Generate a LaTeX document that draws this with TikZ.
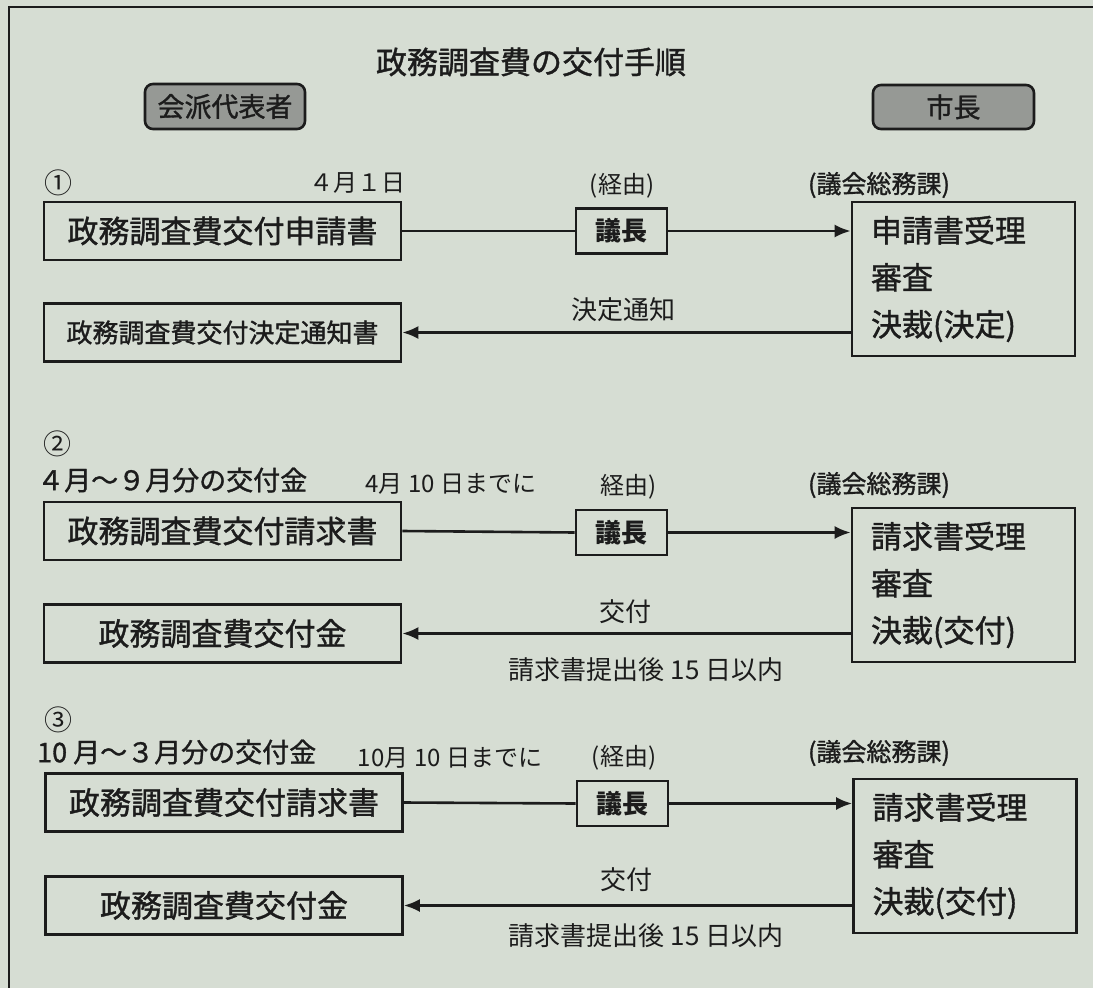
\documentclass[tikz,border=0pt]{standalone}
\usepackage{fontspec}
\setmainfont{Noto Sans CJK JP}
\newfontfamily\jpm[FakeBold=1.2]{Noto Sans CJK JP}
\usetikzlibrary{arrows.meta}
\definecolor{bg}{RGB}{214,221,211}
\definecolor{hdr}{RGB}{150,153,149}
\definecolor{ink}{RGB}{28,28,28}
\begin{document}
\begin{tikzpicture}[x=1pt,y=-1pt,
  box/.style={draw=ink, line width=2.6pt, inner sep=0pt, text=ink},
  hdrbox/.style={box, rounded corners=8pt, fill=hdr},
  lab/.style={inner sep=0pt, text=ink},
  conn/.style={draw=ink, line width=2.6pt},
  arr/.style={conn, -{Latex[length=16pt,width=13pt]}},
  big/.style={font=\jpm\fontsize{31}{37}\selectfont},
  bigl/.style={font=\jpm\fontsize{31}{47}\selectfont},
  mid/.style={font=\fontsize{26}{31}\selectfont},
  sm/.style={font=\fontsize{24}{29}\selectfont},
  circ/.style={font=\fontsize{28}{28}\selectfont},
  dept/.style={font=\jpm\fontsize{25}{30}\selectfont},
  period/.style={font=\jpm\fontsize{27}{32}\selectfont, anchor=west},
  lbox/.style={box, big, minimum width=357pt, minimum height=58pt},
  rbox/.style={box, bigl, align=left, text width=185pt, inner xsep=19pt, minimum width=223pt, minimum height=154pt},
  gbox/.style={box, font=\fontsize{26}{31}\selectfont\bfseries, minimum width=91pt, minimum height=45pt},
]
\fill[bg] (0,0) rectangle (1093,988);
\useasboundingbox (0,0) rectangle (1093,988);
\draw[ink, line width=2.6pt] (1093,7) -- (9,7) -- (9,988);

% title and headers
\node[lab, big] (title) at (531,62) {政務調査費の交付手順};
\node[hdrbox, font=\jpm\fontsize{27}{32}\selectfont, minimum width=160pt, minimum height=45pt] (kaiha) at (225,106.5) {会派代表者};
\node[hdrbox, font=\jpm\fontsize{27}{32}\selectfont, minimum width=161pt, minimum height=44pt] (shicho) at (953.5,107) {市長};

% ---- step 1
\node[lab, circ] (n1) at (59,183) {①};
\node[lab, sm] (d1) at (357,183) {４月１日};
\node[lab, sm] (k1) at (622,186) {(経由)};
\node[lab, dept] (g1) at (879,185) {(議会総務課)};
\node[lbox] (ap1) at (222.5,231) {政務調査費交付申請書};
\node[lbox, font=\jpm\fontsize{26}{31}\selectfont] (dn1) at (222.5,332.5) {政務調査費交付決定通知書};
\node[gbox] (ch1) at (621.5,231) {議長};
\node[rbox] (rb1) at (963.5,279) {申請書受理\\審査\\決裁(決定)};
\draw[conn] (ap1.east) -- (ch1.west);
\draw[arr] (ch1.east) -- (rb1.west |- ch1.east);
\draw[arr] (rb1.west |- dn1.east) -- (dn1.east);
\node[lab, mid] (t1) at (623,310) {決定通知};

% ---- step 2
\node[lab, circ] (n2) at (57,444) {②};
\node[lab, period] (p2) at (37,480) {４月～９月分の交付金};
\node[lab, sm] (d2) at (451,484) {4月 10 日までに};
\node[lab, sm] (k2) at (629,487) {経由)};
\node[lab, dept] (g2) at (879,485) {(議会総務課)};
\node[lbox] (rq2) at (222.5,531) {政務調査費交付請求書};
\node[lbox] (kf2) at (222.5,633.5) {政務調査費交付金};
\node[gbox] (ch2) at (621.5,532.5) {議長};
\node[rbox] (rb2) at (963.5,585) {請求書受理\\審査\\決裁(交付)};
\draw[conn] (rq2.east) -- (ch2.west);
\draw[arr] (ch2.east) -- (rb2.west |- ch2.east);
\draw[arr] (rb2.west |- kf2.east) -- (kf2.east);
\node[lab, mid] (t2) at (625,612) {交付};
\node[lab, mid] (s2) at (646,670) {請求書提出後 15 日以内};

% ---- step 3
\node[lab, circ] (n3) at (58,720) {③};
\node[lab, period] (p3) at (37,752) {10 月～３月分の交付金};
\node[lab, sm] (d3) at (450,758) {10月 10 日までに};
\node[lab, sm] (k3) at (624,758) {(経由)};
\node[lab, dept] (g3) at (879,753) {(議会総務課)};
\node[lbox] (rq3) at (224,802.5) {政務調査費交付請求書};
\node[lbox] (kf3) at (224,905.5) {政務調査費交付金};
\node[gbox] (ch3) at (622.5,803.5) {議長};
\node[rbox] (rb3) at (965,856) {請求書受理\\審査\\決裁(交付)};
\draw[conn] (rq3.east) -- (ch3.west);
\draw[arr] (ch3.east) -- (rb3.west |- ch3.east);
\draw[arr] (rb3.west |- kf3.east) -- (kf3.east);
\node[lab, mid] (t3) at (626,880) {交付};
\node[lab, mid] (s3) at (646,936) {請求書提出後 15 日以内};
\end{tikzpicture}
\end{document}
